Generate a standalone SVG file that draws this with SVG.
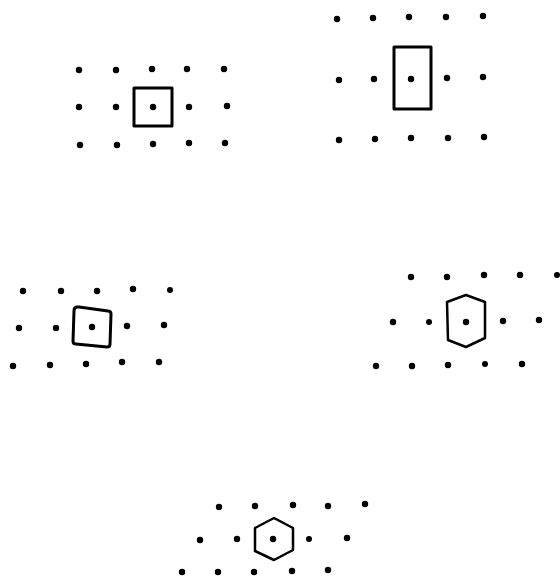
<svg xmlns="http://www.w3.org/2000/svg" width="560" height="578" viewBox="0 0 560 578">
<style>
.d{fill:#000}
.s{fill:none;stroke:#000;stroke-width:3;stroke-linejoin:round}
.h{fill:none;stroke:#000;stroke-width:2.5;stroke-linejoin:round}
</style>
<rect width="560" height="578" fill="#fff"/>
<g id="lattice1">
<g class="d">
<circle cx="79" cy="70" r="3.2"/><circle cx="116" cy="70" r="3.2"/><circle cx="152" cy="69" r="3.2"/><circle cx="187" cy="69" r="3.2"/><circle cx="224" cy="69" r="3.2"/>
<circle cx="79" cy="107" r="3.2"/><circle cx="116" cy="107" r="3.2"/><circle cx="153" cy="107" r="3.2"/><circle cx="189" cy="107" r="3.2"/><circle cx="227" cy="106" r="3.2"/>
<circle cx="80" cy="145" r="3.2"/><circle cx="117" cy="145" r="3.2"/><circle cx="153" cy="144" r="3.2"/><circle cx="189" cy="143" r="3.2"/><circle cx="225" cy="143" r="3.2"/>
</g>
<rect class="s" x="134" y="88" width="38" height="38"/>
</g>
<g id="lattice2">
<g class="d">
<circle cx="337" cy="19" r="3.2"/><circle cx="373" cy="18" r="3.2"/><circle cx="409" cy="17" r="3.2"/><circle cx="446" cy="17" r="3.2"/><circle cx="483" cy="16" r="3.2"/>
<circle cx="339" cy="80" r="3.2"/><circle cx="374" cy="79" r="3.2"/><circle cx="411" cy="79" r="3.2"/><circle cx="447" cy="78" r="3.2"/><circle cx="483" cy="77" r="3.2"/>
<circle cx="339" cy="140" r="3.2"/><circle cx="375" cy="139" r="3.2"/><circle cx="411" cy="138" r="3.2"/><circle cx="448" cy="138" r="3.2"/><circle cx="484" cy="137" r="3.2"/>
</g>
<rect class="s" x="394" y="47" width="37" height="62"/>
</g>
<g id="lattice3">
<g class="d">
<circle cx="23" cy="291" r="3.2"/><circle cx="61" cy="291" r="3.2"/><circle cx="97" cy="291" r="3.2"/><circle cx="133" cy="289" r="3.2"/><circle cx="170" cy="290" r="3"/>
<circle cx="19" cy="328" r="3.2"/><circle cx="56" cy="328" r="3.2"/><circle cx="92" cy="327" r="3.2"/><circle cx="127" cy="326" r="3.2"/><circle cx="164" cy="325" r="3.2"/>
<circle cx="13" cy="366" r="3.2"/><circle cx="50" cy="365" r="3.2"/><circle cx="86" cy="364" r="3.2"/><circle cx="122" cy="362" r="3.2"/><circle cx="159" cy="362" r="3.2"/>
</g>
<path class="s" d="M77,307 Q74,307 74,311 L73,341 Q73,344 76,344 L107,347 Q110,347 110,344 L111,314 Q111,311 108,311 L79,307 Z"/>
</g>
<g id="lattice4">
<g class="d">
<circle cx="411" cy="277" r="3.2"/><circle cx="447" cy="277" r="3.2"/><circle cx="484" cy="275" r="3.2"/><circle cx="520" cy="275" r="3.2"/><circle cx="557" cy="275" r="3"/>
<circle cx="393" cy="322" r="3.2"/><circle cx="429" cy="322" r="3"/><circle cx="466" cy="322" r="3.2"/><circle cx="503" cy="321" r="3.2"/><circle cx="539" cy="320" r="3.2"/>
<circle cx="376" cy="366" r="3.2"/><circle cx="412" cy="366" r="3.2"/><circle cx="448" cy="365" r="3.2"/><circle cx="485" cy="364" r="3"/><circle cx="522" cy="364" r="3.2"/>
</g>
<polygon class="h" points="466,295 485,302 485,338 466,347 448,340 447,302"/>
</g>
<g id="lattice5">
<g class="d">
<circle cx="219" cy="507" r="3.2"/><circle cx="255" cy="506" r="3.2"/><circle cx="293" cy="505" r="3.2"/><circle cx="328" cy="506" r="3.2"/><circle cx="365" cy="504" r="3.2"/>
<circle cx="200" cy="540" r="3.2"/><circle cx="237" cy="539" r="3.2"/><circle cx="273" cy="539" r="3.2"/><circle cx="309" cy="539" r="3"/><circle cx="347" cy="538" r="3.2"/>
<circle cx="182" cy="572" r="3.2"/><circle cx="218" cy="572" r="3.2"/><circle cx="254" cy="572" r="3.2"/><circle cx="292" cy="571" r="3.2"/><circle cx="328" cy="570" r="3.2"/>
</g>
<polygon class="h" points="274,518 293,528 293,550 274,560 255,551 255,528"/>
</g>
</svg>
